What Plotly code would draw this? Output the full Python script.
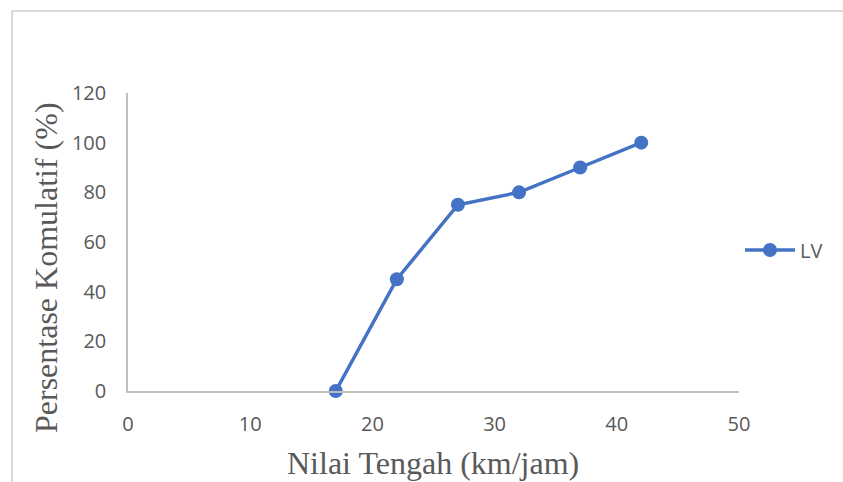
import plotly.graph_objects as go

# Cumulative percentage vs. class midpoint speed
nilai_tengah = [17, 22, 27, 32, 37, 42]
persentase_komulatif = [0, 45, 75, 80, 90, 100]
series_name = "LV"

x_ticks = [0, 10, 20, 30, 40, 50]
y_ticks = [0, 20, 40, 60, 80, 100, 120]

W, H = 843, 482
L, R, T, B = 128, 104, 93, 91
PW, PH = W - L - R, H - T - B


def px_x(p):
    return (p - L) / PW


def px_y(p):
    return (H - B - p) / PH


blue = "#4472C4"
tick_font = dict(family="Open Sans, Liberation Sans, sans-serif", size=20, color="#595959")
title_font = dict(family="Liberation Serif, Times New Roman, serif", size=32, color="#595959")

fig = go.Figure()
fig.add_trace(go.Scatter(
    x=nilai_tengah, y=persentase_komulatif, name=series_name,
    mode="lines+markers",
    line=dict(color=blue, width=3.5),
    marker=dict(color=blue, size=14),
    cliponaxis=False,
))

fig.update_layout(
    width=W, height=H,
    margin=dict(l=L, r=R, t=T, b=B),
    paper_bgcolor="white", plot_bgcolor="white",
    showlegend=True,
    legend=dict(
        x=px_x(740), y=px_y(250), xanchor="left", yanchor="middle",
        font=tick_font, bgcolor="rgba(0,0,0,0)",
        itemwidth=50,
    ),
    xaxis=dict(
        range=[0, 50], tickvals=x_ticks, ticks="", showgrid=False,
        showline=True, linecolor="#bfbfbf", linewidth=1.5, zeroline=False,
        tickfont=tick_font, ticklabelstandoff=14,
    ),
    yaxis=dict(
        range=[0, 120], tickvals=y_ticks, ticks="", showgrid=False,
        showline=True, linecolor="#bfbfbf", linewidth=1.5, zeroline=False,
        tickfont=tick_font, ticklabelstandoff=16,
    ),
    annotations=[
        dict(text="Nilai Tengah (km/jam)", xref="paper", yref="paper",
             x=px_x(433), y=px_y(463), xanchor="center", yanchor="middle",
             showarrow=False, font=title_font),
        dict(text="Persentase Komulatif (%)", xref="paper", yref="paper",
             x=px_x(46), y=px_y(268), xanchor="center", yanchor="middle",
             textangle=-90, showarrow=False, font=title_font),
    ],
    shapes=[
        dict(type="line", xref="paper", yref="paper",
             x0=px_x(12), x1=px_x(850), y0=px_y(11), y1=px_y(11),
             line=dict(color="#d9d9d9", width=2)),
        dict(type="line", xref="paper", yref="paper",
             x0=px_x(12), x1=px_x(12), y0=px_y(11), y1=px_y(490),
             line=dict(color="#d9d9d9", width=2)),
    ],
)

fig.write_html("out.html")
